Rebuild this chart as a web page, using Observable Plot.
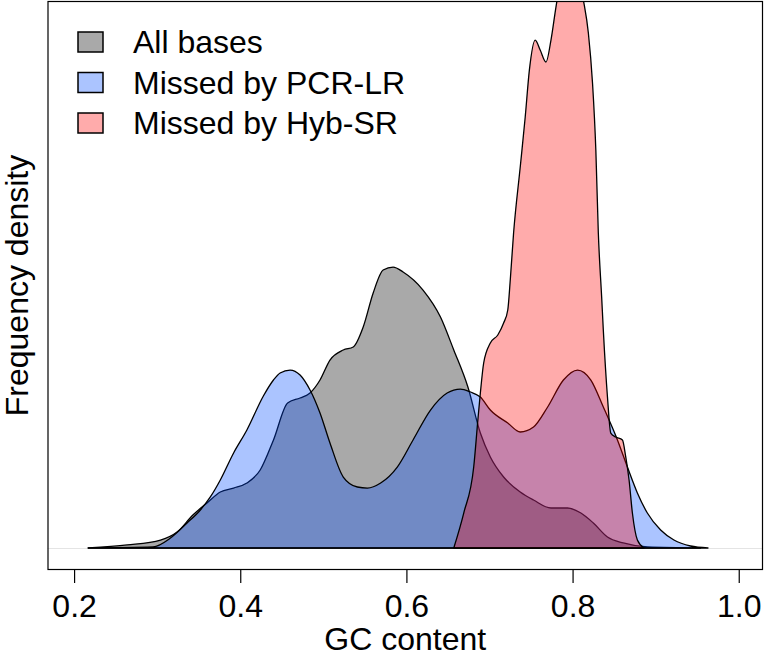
<!DOCTYPE html>
<html>
<head>
<meta charset="utf-8">
<script src="https://cdn.jsdelivr.net/npm/d3@7"></script>
<script src="https://cdn.jsdelivr.net/npm/@observablehq/plot@0.6"></script>
<style>
  body { margin: 0; background: #fff; }
  #chart { width: 767px; height: 658px; }
</style>
</head>
<body>
<div id="chart"></div>
<script>
// Series names (legend order)
const seriesNames = ["All bases", "Missed by PCR-LR", "Missed by Hyb-SR"];

// All bases: GC content and density
const gcAll = [0.217, 0.264, 0.304, 0.324, 0.343, 0.360, 0.376, 0.392, 0.408, 0.424, 0.440, 0.457, 0.472, 0.484, 0.496, 0.508, 0.524, 0.536, 0.548, 0.560, 0.572, 0.584, 0.596, 0.620, 0.641, 0.657, 0.674, 0.689, 0.701, 0.717, 0.737, 0.753, 0.774, 0.794, 0.810, 0.825, 0.842, 0.861, 0.890, 0.954];
const densAll = [0, 0.029, 0.076, 0.152, 0.314, 0.429, 0.533, 0.571, 0.619, 0.743, 1.029, 1.381, 1.429, 1.476, 1.600, 1.790, 1.886, 1.914, 2.105, 2.429, 2.648, 2.676, 2.629, 2.457, 2.200, 1.886, 1.533, 1.095, 0.867, 0.676, 0.533, 0.457, 0.381, 0.381, 0.333, 0.238, 0.105, 0.048, 0.010, 0];

// Missed by PCR-LR
const gcPcr = [0.217, 0.295, 0.316, 0.336, 0.352, 0.364, 0.376, 0.392, 0.408, 0.428, 0.440, 0.448, 0.460, 0.472, 0.484, 0.496, 0.508, 0.524, 0.541, 0.553, 0.569, 0.589, 0.608, 0.629, 0.649, 0.665, 0.677, 0.689, 0.701, 0.722, 0.737, 0.753, 0.770, 0.789, 0.806, 0.822, 0.837, 0.854, 0.866, 0.878, 0.890, 0.906, 0.922, 0.942, 0.963];
const densPcr = [0, 0.010, 0.095, 0.238, 0.362, 0.486, 0.648, 0.905, 1.124, 1.450, 1.600, 1.667, 1.695, 1.648, 1.505, 1.286, 1.000, 0.676, 0.581, 0.571, 0.619, 0.771, 1.029, 1.314, 1.476, 1.514, 1.486, 1.438, 1.314, 1.190, 1.105, 1.152, 1.343, 1.600, 1.695, 1.600, 1.343, 1.029, 0.771, 0.524, 0.333, 0.171, 0.076, 0.019, 0];

// Missed by Hyb-SR
const gcHyb = [0.657, 0.669, 0.681, 0.686, 0.689, 0.693, 0.701, 0.710, 0.717, 0.722, 0.725, 0.729, 0.737, 0.743, 0.748, 0.755, 0.761, 0.768, 0.774, 0.780, 0.788, 0.798, 0.807, 0.813, 0.819, 0.824, 0.828, 0.831, 0.835, 0.837, 0.842, 0.846, 0.852, 0.860, 0.864, 0.868, 0.872, 0.878, 0.886];
const densHyb = [0, 0.333, 0.771, 1.219, 1.476, 1.762, 1.952, 2.029, 2.143, 2.267, 2.552, 3.000, 3.629, 4.105, 4.552, 4.838, 4.743, 4.629, 4.838, 5.152, 5.500, 5.620, 5.450, 5.219, 4.905, 4.429, 3.790, 3.000, 2.390, 2.076, 1.438, 1.095, 1.057, 1.029, 0.867, 0.648, 0.333, 0.076, 0];

// Axis ticks
const xTicks = [0.2, 0.4, 0.6, 0.8, 1.0];

const toRows = (xs, ys) => xs.map((x, i) => ({x, y: ys[i]}));
const font = "'Liberation Sans', Arial, Helvetica, sans-serif";
const fs = 32;

const areaOpts = {x: "x", y1: 0, y2: "y", curve: "monotone-x", stroke: "#000", strokeWidth: 1.3, clip: true};

const plot = Plot.plot({
  width: 767,
  height: 658,
  marginLeft: 47.5,
  marginRight: 5,
  marginTop: 1,
  marginBottom: 89,
  style: {fontFamily: font, background: "#fff", color: "#000"},
  x: {domain: [0.168, 1.028]},
  y: {domain: [-0.2, 5.21], axis: null},
  marks: [
    Plot.ruleY([0], {stroke: "#e4e4e4", strokeWidth: 1}),
    Plot.areaY(toRows(gcAll, densAll), {...areaOpts, fill: "#A9A9A9"}),
    Plot.areaY(toRows(gcPcr, densPcr), {...areaOpts, fill: "rgb(0,77,255)", fillOpacity: 0.33}),
    Plot.areaY(toRows(gcHyb, densHyb), {...areaOpts, fill: "rgb(255,0,0)", fillOpacity: 0.33}),
    Plot.frame({stroke: "#000", strokeWidth: 1.2}),
    Plot.axisX({ticks: xTicks, tickSize: 14, tickPadding: 11, tickFormat: d => d.toFixed(1), fontSize: fs, label: null, strokeWidth: 1.2}),
    Plot.text(["GC content"], {text: d => d, frameAnchor: "bottom", lineAnchor: "middle", textAnchor: "middle", dy: 70, fontSize: fs}),
    Plot.text(["Frequency density"], {text: d => d, frameAnchor: "left", lineAnchor: "middle", textAnchor: "middle", rotate: -90, dx: -30, fontSize: fs})
  ]
});

// Legend (inside the plot, top-left)
const legendFills = ["#A9A9A9", "rgb(171,196,255)", "rgb(255,171,171)"];
const svg = d3.select(plot);
const lg = svg.append("g").attr("font-family", font).attr("font-size", fs).attr("text-anchor", "start");
seriesNames.forEach((name, i) => {
  lg.append("rect")
    .attr("x", 78).attr("y", 32 + i * 40.5)
    .attr("width", 25).attr("height", 20)
    .attr("fill", legendFills[i]).attr("stroke", "#000").attr("stroke-width", 1.5);
  lg.append("text")
    .attr("x", 133).attr("y", 42 + i * 40.5)
    .attr("dy", "0.35em").attr("fill", "#000")
    .attr("text-anchor", "start")
    .text(name);
});

document.getElementById("chart").appendChild(plot);
</script>
</body>
</html>
